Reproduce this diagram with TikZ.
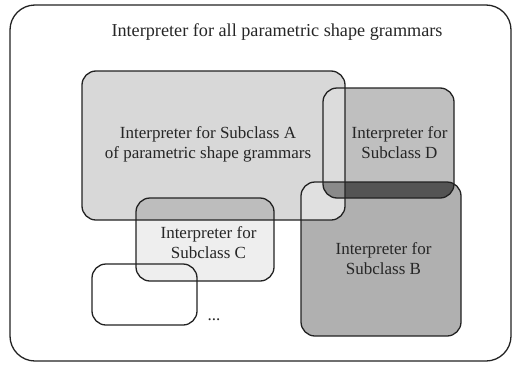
\documentclass[tikz,border=0pt]{standalone}
\usepackage{fontspec}
\setmainfont{Liberation Serif}
\usetikzlibrary{positioning}

\definecolor{fillA}{HTML}{D8D8D8}
\definecolor{fillB}{HTML}{B0B0B0}
\definecolor{fillC}{HTML}{EEEEEE}
\definecolor{fillD}{HTML}{BFBFBF}
\definecolor{fillAD}{HTML}{DCDCDC}
\definecolor{fillAB}{HTML}{E0E0E0}
\definecolor{fillDB}{HTML}{545454}
\definecolor{fillADB}{HTML}{8A8A8A}
\definecolor{fillAC}{HTML}{BDBDBD}
\definecolor{edgegray}{HTML}{222222}

\begin{document}
\begin{tikzpicture}[x=1pt,y=-1pt,
  every node/.style={font=\fontsize{17}{20}\selectfont,text=black!85},
  set/.style={rectangle,rounded corners=14pt,inner sep=0pt,outer sep=0pt},
  rim/.style={draw=edgegray,line width=1.3pt,rounded corners=14pt},
  settext/.style={align=center,inner sep=0pt},
%scale=0.7, transform shape
]
\useasboundingbox (0,0) rectangle (513,364);
\node[set,rounded corners=25pt,draw=edgegray,line width=1.3pt,minimum width=501pt,minimum height=356pt] (nAll) at (260.5,183) {};
\node[font=\fontsize{18.2}{21}\selectfont] (nTitle) at (277,32) {Interpreter for all parametric shape grammars};

\node[set,fill=fillA,minimum width=263pt,minimum height=149pt] (nA) at (213.5,145.5) {};
\node[set,fill=fillD,minimum width=131pt,minimum height=110pt] (nD) at (388.5,143) {};
\node[set,fill=fillB,minimum width=160pt,minimum height=154pt] (nB) at (381,259) {};
\node[set,fill=fillC,minimum width=138pt,minimum height=83pt] (nC) at (205,239.5) {};
\node[set,minimum width=105pt,minimum height=61pt] (nE) at (144.5,294.5) {};

% overlaps
\begin{scope}
  \clip[rounded corners=14pt] (nA.south west) rectangle (nA.north east);
  \fill[fillAD,rounded corners=14pt] (nD.south west) rectangle (nD.north east);
  \fill[fillAB,rounded corners=14pt] (nB.south west) rectangle (nB.north east);
  \fill[fillAC,rounded corners=14pt] (nC.south west) rectangle (nC.north east);
\end{scope}
\begin{scope}
  \clip[rounded corners=14pt] (nD.south west) rectangle (nD.north east);
  \fill[fillDB,rounded corners=14pt] (nB.south west) rectangle (nB.north east);
  \clip[rounded corners=14pt] (nA.south west) rectangle (nA.north east);
  \fill[fillADB,rounded corners=14pt] (nB.south west) rectangle (nB.north east);
\end{scope}

\foreach \s in {nA,nD,nB,nC,nE}
  \draw[rim] (\s.south west) rectangle (\s.north east);

\node[settext] (tA) at (208,144) {Interpreter for Subclass A\\of parametric shape grammars};
\node[settext] (tD) at (399.5,143) {Interpreter for\\Subclass D};
\node[settext] (tB) at (383.5,259) {Interpreter for\\Subclass B};
\node[settext] (tC) at (208.5,243) {Interpreter for\\Subclass C};
\node (nDots) at (214,320) {...};

\end{tikzpicture}
\end{document}
